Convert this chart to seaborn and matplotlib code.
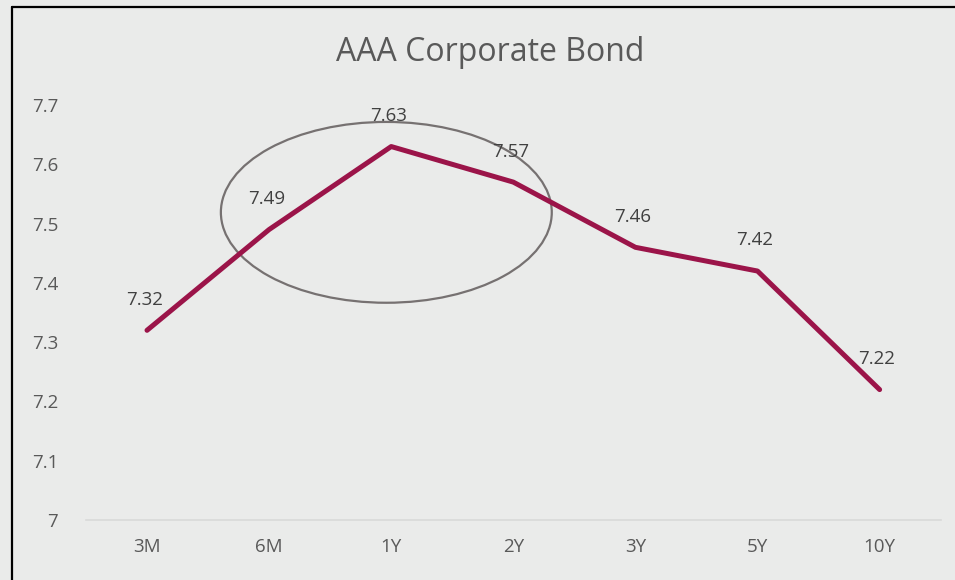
import numpy as np
import pandas as pd
import seaborn as sns
from matplotlib import pyplot as plt
from matplotlib.patches import Ellipse

tenors = ['3M', '6M', '1Y', '2Y', '3Y', '5Y', '10Y']
yields = [7.32, 7.49, 7.63, 7.57, 7.46, 7.42, 7.22]
yticks = [7, 7.1, 7.2, 7.3, 7.4, 7.5, 7.6, 7.7]
ytick_labels = ['7', '7.1', '7.2', '7.3', '7.4', '7.5', '7.6', '7.7']

bg = '#EAEBEA'
line_col = '#9B1449'
txt_col = '#595959'

sns.set_style('white')
plt.rcParams['font.family'] = ['Open Sans', 'DejaVu Sans']

df = pd.DataFrame({'tenor': tenors, 'yield': yields})
df['pos'] = range(len(tenors))

fig = plt.figure(figsize=(9.55, 5.8), dpi=100, facecolor=bg)
ax = fig.add_axes([0.090, 0.1034, 0.895, 0.7155])
ax.set_facecolor(bg)

sns.lineplot(data=df, x='pos', y='yield', color=line_col, linewidth=3.6,
             ax=ax, solid_capstyle='round', solid_joinstyle='round')

for i, v in zip(df['pos'], df['yield']):
    ax.annotate(f'{v:.2f}', (i, v), xytext=(-2, 22), textcoords='offset points',
                ha='center', va='center', fontsize=13.5, color='#404040')

# grey oval around the short end
ax.add_patch(Ellipse((1.96, 7.519), 2.71, 0.305, fill=False,
                     edgecolor='#767171', linewidth=1.6))

ax.set_xlim(-0.5, len(tenors) - 0.5)
ax.set_ylim(7, 7.7)
ax.set_xticks(range(len(tenors)))
ax.set_xticklabels(tenors)
ax.set_yticks(yticks)
ax.set_yticklabels(ytick_labels)
ax.tick_params(axis='both', length=0, labelsize=13.5, labelcolor=txt_col)
ax.tick_params(axis='x', pad=13)
ax.tick_params(axis='y', pad=20)
ax.set_xlabel('')
ax.set_ylabel('')
for s in ['top', 'right', 'left']:
    ax.spines[s].set_visible(False)
ax.spines['bottom'].set_color('#D9D9D9')
ax.spines['bottom'].set_linewidth(1.2)

fig.text(0.513, 0.91, 'AAA Corporate Bond', ha='center', va='center',
         fontsize=23, color=txt_col)

# outer chart border (left and top edges visible)
fig.add_artist(plt.Line2D([11.5 / 955, 11.5 / 955], [0, 1 - 7 / 580],
                          color='black', linewidth=1.6))
fig.add_artist(plt.Line2D([11.5 / 955, 1], [1 - 7 / 580, 1 - 7 / 580],
                          color='black', linewidth=1.6))

fig.savefig('out.png', dpi=100, facecolor=bg)
